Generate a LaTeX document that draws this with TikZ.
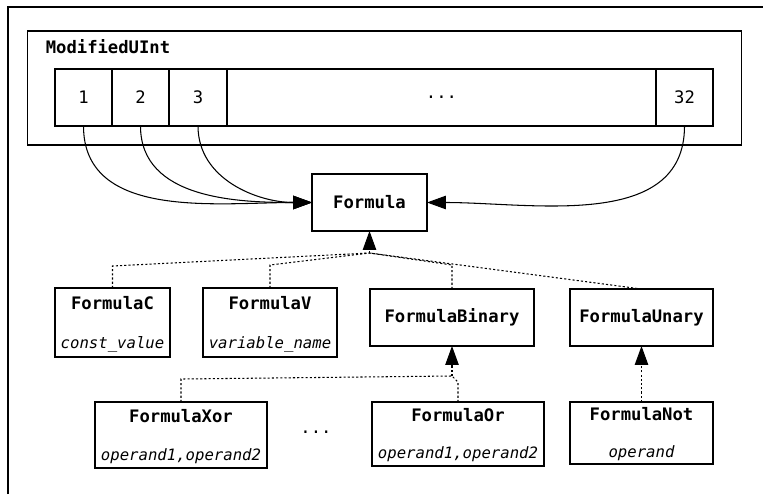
\documentclass[tikz,border=0pt]{standalone}
\usepackage{fontspec}
\setmonofont{DejaVu Sans Mono}
\usetikzlibrary{arrows.meta}

\begin{document}
\begin{tikzpicture}[x=0.02cm,y=-0.02cm,line width=0.6pt,
  font=\ttfamily\fontsize{9.8}{12}\selectfont,
  box/.style={draw,rectangle,inner sep=0pt,outer sep=0pt},
  cell/.style={box,minimum height=1.14cm},
  nametxt/.style={font=\ttfamily\bfseries\fontsize{9.8}{12}\selectfont},
  fieldtxt/.style={font=\ttfamily\itshape\fontsize{8.9}{11}\selectfont},
  tip/.style={-{Triangle[length=0.38cm,width=0.27cm]}},
  inherit/.style={dash pattern=on 1.2pt off 1.2pt}]
\useasboundingbox (0,0) rectangle (763,494);

% frame around everything
\draw[line width=1pt] (8,494) -- (8,7) -- (763,7);

% the 32 bit word
\node[box,minimum width=14.3cm,minimum height=2.28cm] (uint) at (384.5,88) {};
\node[nametxt] (uintname) at (108,47) {ModifiedUInt};
\node[cell,minimum width=1.14cm] (b1) at (83.5,97.5) {1};
\node[cell,minimum width=1.14cm] (b2) at (140.5,97.5) {2};
\node[cell,minimum width=1.16cm] (b3) at (198,97.5) {3};
\node[cell,minimum width=8.58cm] (bdots) at (441.5,97.5) {...};
\node[cell,minimum width=1.14cm] (b32) at (684.5,97.5) {32};

\node[box,nametxt,minimum width=2.3cm,minimum height=1.14cm] (formula) at (369.5,202.5) {Formula};

\draw[tip] (b1.south) to[out=-90,in=180] (formula.west);
\draw[tip] (b2.south) to[out=-90,in=180] (formula.west);
\draw[tip] (b3.south) to[out=-90,in=180] (formula.west);
\draw[tip] (b32.south) to[out=-90,in=0] (formula.east);

% subclasses
\node[box,minimum width=2.3cm,minimum height=1.38cm] (fc) at (112.5,322.5) {};
\node[nametxt] (fcname) at ([yshift=-0.3cm]fc.north) {FormulaC};
\node[fieldtxt] (fcfield) at ([yshift=0.26cm]fc.south) {const\_value};

\node[box,minimum width=2.68cm,minimum height=1.38cm] (fv) at (270,322.5) {};
\node[nametxt] (fvname) at ([yshift=-0.3cm]fv.north) {FormulaV};
\node[fieldtxt] (fvfield) at ([yshift=0.26cm]fv.south) {variable\_name};

\node[box,nametxt,minimum width=3.28cm,minimum height=1.14cm] (fb) at (452,317.5) {FormulaBinary};
\node[box,nametxt,minimum width=2.86cm,minimum height=1.14cm] (fu) at (641.5,317.5) {FormulaUnary};

\node[box,minimum width=3.44cm,minimum height=1.32cm] (fx) at (181,435) {};
\node[nametxt] (fxname) at ([yshift=-0.28cm]fx.north) {FormulaXor};
\node[fieldtxt] (fxfield) at ([yshift=0.24cm]fx.south) {operand1,operand2};

\node (more) at (316,432) {...};

\node[box,minimum width=3.44cm,minimum height=1.28cm] (fo) at (458,434) {};
\node[nametxt] (foname) at ([yshift=-0.26cm]fo.north) {FormulaOr};
\node[fieldtxt] (fofield) at ([yshift=0.24cm]fo.south) {operand1,operand2};

\node[box,minimum width=2.86cm,minimum height=1.24cm] (fn) at (641.5,433) {};
\node[nametxt] (fnname) at ([yshift=-0.24cm]fn.north) {FormulaNot};
\node[fieldtxt] (fnfield) at ([yshift=0.22cm]fn.south) {operand};

% inheritance
\coordinate (top) at (369.5,253);
\draw[inherit] (fc.north) -- ++(0,-22) -- (top);
\draw[inherit] (fv.north) -- ++(0,-23) -- (top);
\draw[inherit] (fb.north) -- ++(0,-24) -- (top);
\draw[inherit] (fu.north) -- (top);
\draw[inherit,tip] (top) -- (formula.south);

\coordinate (bintop) at (452,376);
\draw[inherit] (fx.north) -- ++(0,-23) -- (bintop);
\draw[inherit] (fo.north) -- ++(0,-20) -- (bintop);
\draw[inherit,tip] (bintop) -- (fb.south);

\draw[inherit,tip] (fn.north) -- (fu.south);
\end{tikzpicture}
\end{document}
